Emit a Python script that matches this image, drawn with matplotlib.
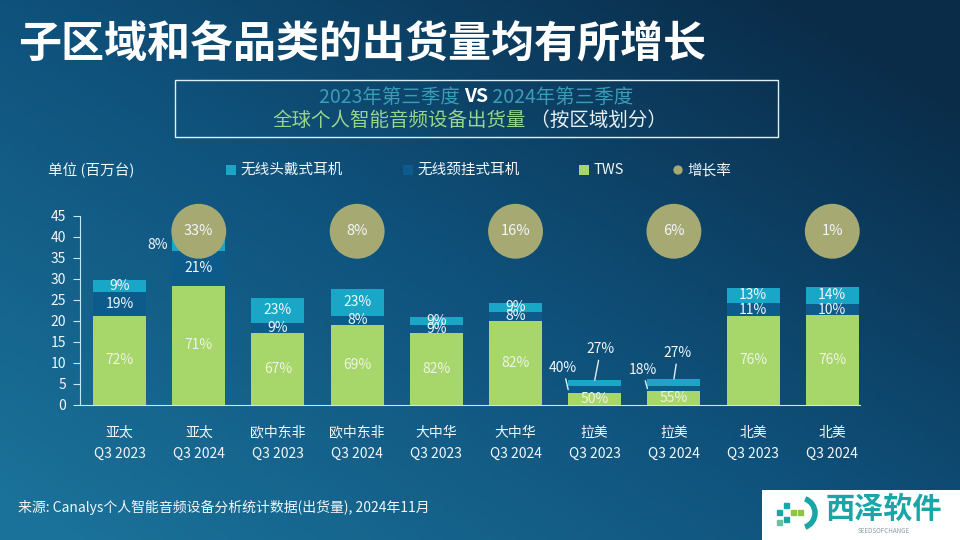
import numpy as np
import matplotlib
matplotlib.use("Agg")
import matplotlib.pyplot as plt
from matplotlib.patches import Rectangle, Arc
from matplotlib.colors import LinearSegmentedColormap

plt.rcParams['font.family'] = ['Noto Sans CJK SC', 'DejaVu Sans']

# data (millions of units)
regions = ["亚太", "亚太", "欧中东非", "欧中东非", "大中华", "大中华", "拉美", "拉美", "北美", "北美"]
quarters = ["Q3 2023", "Q3 2024"] * 5
tws = [21.2, 28.4, 17.2, 19.1, 17.2, 20.0, 2.9, 3.4, 21.2, 21.4]
neckband = [5.7, 8.3, 2.4, 2.1, 1.9, 2.2, 1.5, 1.0, 3.0, 2.6]
headphone = [2.8, 3.3, 5.9, 6.4, 1.9, 2.0, 1.5, 1.8, 3.7, 4.1]
tws_pct = ["72%", "71%", "67%", "69%", "82%", "82%", "50%", "55%", "76%", "76%"]
neck_pct = ["19%", "21%", "9%", "8%", "9%", "8%", "40%", "18%", "11%", "10%"]
head_pct = ["9%", "8%", "23%", "23%", "9%", "9%", "27%", "27%", "13%", "14%"]
growth = ["33%", "8%", "16%", "6%", "1%"]
growth_y = 41.3

c_head = "#1aa7c7"
c_neck = "#0c5b8b"
c_tws = "#a7d76b"
c_growth = "#a6aa72"
c_axis = "#c4e9f2"
c_text = "#f2f7fa"

W, H = 960, 540
fig = plt.figure(figsize=(9.6, 5.4), dpi=100)

# background gradient
bg = fig.add_axes([0, 0, 1, 1], zorder=-10)
xx, yy = np.meshgrid(np.linspace(0, 1, 200), np.linspace(0, 1, 120))
t = np.clip(0.6 * xx + 0.55 * (1 - yy) - 0.05, 0, 1)
cmap_bg = LinearSegmentedColormap.from_list("bg", ["#1a7199", "#0f527c", "#0a2c49"])
bg.imshow(t, cmap=cmap_bg, aspect="auto", extent=[0, 1, 0, 1], origin="upper")
bg.set_xlim(0, 1)
bg.set_ylim(0, 1)
bg.axis("off")


def px(x, y):
    return x / W, 1 - y / H


# title
fig.text(*px(18, 43), "子区域和各品类的出货量均有所增长", fontsize=31, fontweight="bold",
         color="white", va="center", ha="left")

# subtitle box
fig.add_artist(Rectangle(px(175, 137), 603 / W, 57 / H, transform=fig.transFigure,
                         fill=False, edgecolor="#dfeff4", lw=1))

renderer = fig.canvas.get_renderer()


def centered_line(parts, cx, cy, size):
    texts = [fig.text(0, 0, s, color=c, fontsize=size, fontweight=w, va="center")
             for s, c, w in parts]
    widths = [tx.get_window_extent(renderer).width for tx in texts]
    x0 = cx - sum(widths) / 2
    for tx, wd in zip(texts, widths):
        tx.set_position(px(x0, cy))
        x0 += wd


centered_line([("2023年第三季度 ", "#3a9db8", "normal"), ("VS", "white", "bold"),
               (" 2024年第三季度", "#3a9db8", "normal")], 476, 97, 14)
centered_line([("全球个人智能音频设备出货量", "#98d58c", "normal"),
               (" （按区域划分）", "#e8f0f2", "normal")], 470, 120, 14)

# legend row
fig.text(*px(48, 170), "单位 (百万台)", fontsize=10.5, color=c_text, va="center")
legend_items = [("无线头戴式耳机", c_head, "s", 231), ("无线颈挂式耳机", c_neck, "s", 408),
                ("TWS", c_tws, "s", 584), ("增长率", c_growth, "o", 678)]
leg_ax = fig.add_axes([0, 0, 1, 1], zorder=5)
leg_ax.patch.set_alpha(0)
leg_ax.set_xlim(0, W)
leg_ax.set_ylim(H, 0)
leg_ax.axis("off")
for label, color, marker, x in legend_items:
    leg_ax.scatter([x], [170], marker=marker, s=45, color=color, edgecolors="none")
    leg_ax.text(x + 9, 170, label, fontsize=10.5, color=c_text, va="center")

# main chart
ax = fig.add_axes([80 / W, 135 / H, 780 / W, 189.3 / H])
ax.patch.set_alpha(0)
x = np.arange(len(regions))
wbar = 0.67
tws_a = np.array(tws)
neck_a = np.array(neckband)
head_a = np.array(headphone)
ax.bar(x, tws_a, wbar, color=c_tws, zorder=2)
ax.bar(x, neck_a, wbar, bottom=tws_a, color=c_neck, zorder=2)
ax.bar(x, head_a, wbar, bottom=tws_a + neck_a, color=c_head, zorder=2)

ax.set_xlim(-0.5, 9.35)
ax.set_ylim(0, 45)
ax.set_yticks(range(0, 46, 5))
ax.set_xticks(x)
ax.set_xticklabels([f"{r}\n{q}" for r, q in zip(regions, quarters)], linespacing=1.65)
ax.tick_params(axis="y", colors=c_axis, labelcolor=c_text, labelsize=10, length=5, pad=5)
ax.tick_params(axis="x", length=0, labelcolor=c_text, labelsize=10, pad=15)
for s in ["top", "right"]:
    ax.spines[s].set_visible(False)
for s in ["left", "bottom"]:
    ax.spines[s].set_color(c_axis)

# segment labels
for i in x:
    ax.text(i, tws_a[i] / 2, tws_pct[i], ha="center", va="center", fontsize=10,
            color="#eef3e4", zorder=3)
    if i in (6, 7):
        continue
    ax.text(i, tws_a[i] + neck_a[i] / 2, neck_pct[i], ha="center", va="center",
            fontsize=10, color=c_text, zorder=3)
    if i == 1:
        ax.annotate(head_pct[i], (i - wbar / 2, tws_a[i] + neck_a[i] + head_a[i] / 2),
                    xytext=(-4, -1), textcoords="offset pixels", ha="right", va="center",
                    fontsize=10, color=c_text)
    else:
        ax.text(i, tws_a[i] + neck_a[i] + head_a[i] / 2, head_pct[i], ha="center",
                va="center", fontsize=10, color=c_text, zorder=3)

# LatAm labels with leader lines
lead = dict(arrowstyle="-", color="#dfeff4", lw=1, shrinkA=1, shrinkB=0)
for i, noff, hoff in [(6, (-5, 22), (6, 31)), (7, (-5, 19), (4, 26))]:
    ax.annotate(neck_pct[i], (i - wbar / 2, tws_a[i] + neck_a[i] / 2), xytext=noff,
                textcoords="offset pixels", ha="center", va="center", fontsize=10,
                color=c_text, arrowprops=lead)
    ax.annotate(head_pct[i], (i, tws_a[i] + neck_a[i] + head_a[i]), xytext=hoff,
                textcoords="offset pixels", ha="center", va="center", fontsize=10,
                color=c_text, arrowprops=lead)

# growth circles on the 2024 bars
gx = x[1::2]
ax.scatter(gx, [growth_y] * len(gx), s=1560, color=c_growth, edgecolors="none",
           zorder=4, clip_on=False)
for xi, g in zip(gx, growth):
    ax.text(xi, growth_y, g, ha="center", va="center", fontsize=10.5, color=c_text, zorder=5)

# source
fig.text(*px(18, 507), "来源: Canalys个人智能音频设备分析统计数据(出货量), 2024年11月",
         fontsize=10, color=c_text, va="center")

# watermark logo
leg_ax.add_patch(Rectangle((762, 490), 198, 50, facecolor="white", edgecolor="none"))
leg_ax.text(884, 509, "西泽软件", fontsize=21, fontweight="bold", color="#1aa5a7",
            ha="center", va="center")
leg_ax.text(884, 531, "SEEDSOFCHANGE", fontsize=4.5, color="#8a9aa0",
            ha="center", va="center")
leg_ax.add_patch(Arc((800, 513), 30, 30, theta1=-70, theta2=70, color="#1aa5a7", lw=4))
for sx, sy, sc in [(786, 505, "#1aa5a7"), (793, 512, "#8cc63f"), (786, 519, "#1aa5a7"),
                   (800, 512, "#8cc63f"), (779, 512, "#1aa5a7"), (779, 522, "#6cc0a0")]:
    leg_ax.add_patch(Rectangle((sx - 2.5, sy - 2.5), 5, 5, color=sc))

fig.savefig("out.png", dpi=100)
